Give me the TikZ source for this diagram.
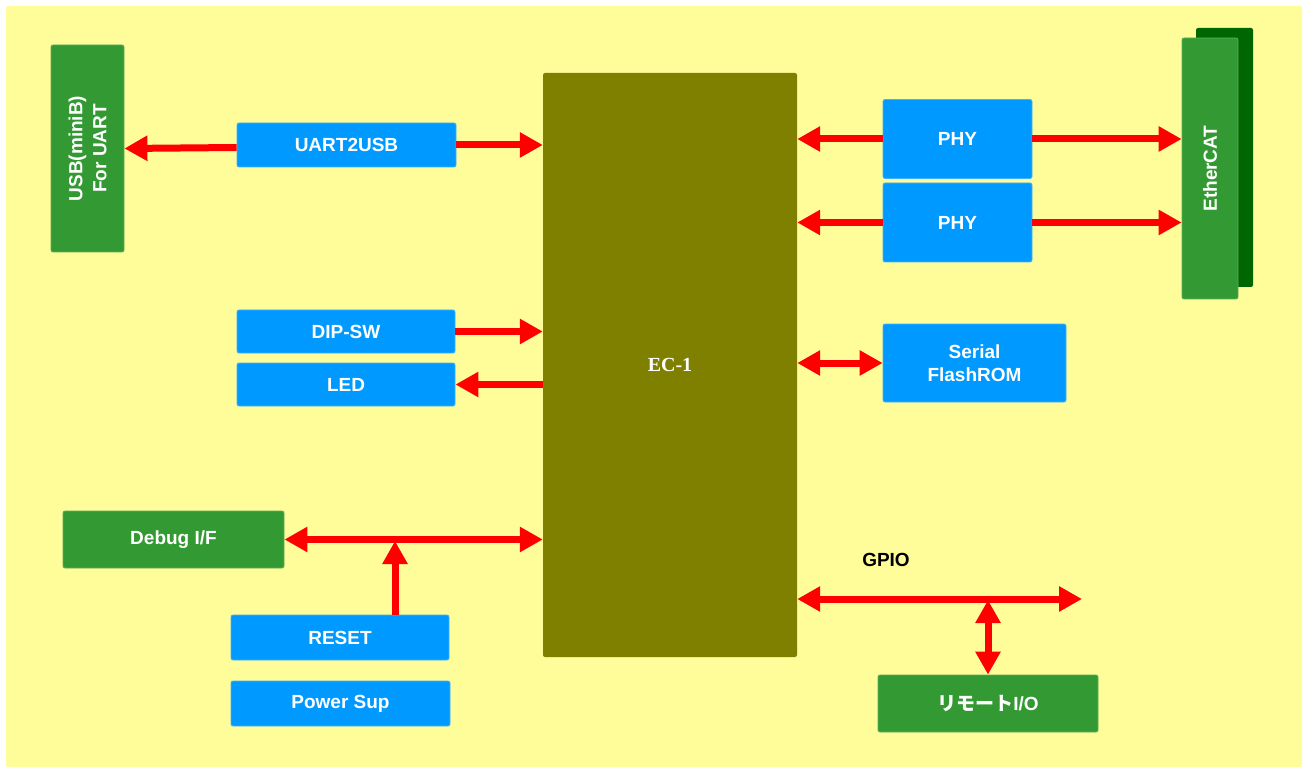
\documentclass[tikz,border=0pt]{standalone}
\usepackage{fontspec}
\usetikzlibrary{arrows.meta}
\setmainfont{Liberation Sans}
\newfontfamily\serifb{Liberation Serif}
\newfontfamily\cjk{Noto Sans CJK JP}
\definecolor{bgy}{HTML}{FFFD99}
\definecolor{bblue}{HTML}{0099FF}
\definecolor{bgreen}{HTML}{339933}
\definecolor{dgreen}{HTML}{006600}
\definecolor{olive}{HTML}{808000}
\definecolor{ared}{HTML}{FF0000}
\begin{document}
\begin{tikzpicture}[x=1pt,y=-1pt,
  box/.style={rectangle, rounded corners=2pt, inner sep=0pt, anchor=center, text=white,
    font=\fontsize{19}{23}\selectfont\bfseries, align=center, line width=0.8pt},
  bluebox/.style={box, fill=bblue, draw=bblue!75!white},
  greenbox/.style={box, fill=bgreen, draw=bgreen!80!white},
  arr/.style={draw=ared, line width=7pt, -{Triangle[length=23pt,width=24pt]}},
  darr/.style={draw=ared, line width=7pt, {Triangle[length=23pt,width=24pt]}-{Triangle[length=23pt,width=24pt]}}
]
\useasboundingbox (0,0) rectangle (1309,767);
\fill[bgy, rounded corners=2pt] (6,6) rectangle (1302,767);

% nodes
\node[greenbox, minimum width=73pt, minimum height=207pt] (usb) at (87.5,148.5) {};
\node[rotate=90, text=white, font=\fontsize{19}{24}\selectfont\bfseries, align=center] (usbt) at (usb.center) {USB(miniB)\\For UART};
\node[bluebox, minimum width=219pt, minimum height=44pt] (uart) at (346.5,145) {UART2USB};
\node[rectangle, rounded corners=2pt, fill=olive, inner sep=0pt, minimum width=254pt, minimum height=584pt, text=white,
  font=\serifb\fontsize{20}{24}\selectfont\bfseries] (ec) at (670,365) {EC-1};
\node[bluebox, minimum width=149pt, minimum height=79pt] (phy1) at (957.5,139) {PHY};
\node[bluebox, minimum width=149pt, minimum height=79pt] (phy2) at (957.5,222.5) {PHY};
\node[box, fill=dgreen, minimum width=57pt, minimum height=259pt] (ethb) at (1224.5,157.5) {};
\node[greenbox, minimum width=56pt, minimum height=261pt] (eth) at (1210,168.5) {};
\node[rotate=90, text=white, font=\fontsize{19}{23}\selectfont\bfseries] (etht) at (eth.center) {EtherCAT};
\node[bluebox, minimum width=218pt, minimum height=43pt] (dip) at (346,331.5) {DIP-SW};
\node[bluebox, minimum width=218pt, minimum height=43pt] (led) at (346,384.5) {LED};
\node[bluebox, minimum width=183pt, minimum height=78pt] (flash) at (974.5,363) {Serial\\FlashROM};
\node[greenbox, minimum width=221pt, minimum height=57pt] (debug) at (173.5,539.5) {Debug I/F};
\node[bluebox, minimum width=218pt, minimum height=45pt] (reset) at (340,637.5) {RESET};
\node[bluebox, minimum width=219pt, minimum height=45pt] (power) at (340.5,703.5) {Power Sup};
\node[greenbox, minimum width=220pt, minimum height=57pt] (remote) at (988,703.5) {{\cjk リモート}I/O};
\node[font=\fontsize{19}{23}\selectfont\bfseries, text=black] (gpio) at (886,560) {GPIO};

% junction coordinates
\coordinate (j1) at (395,541);
\coordinate (g1) at (1082,599);
\coordinate (j2) at (988,600);

% connectors
\draw[arr] ([yshift=-2.5pt]uart.west) -- (usb.east);
\draw[arr] (uart.east) -- (uart.east -| ec.west);
\draw[arr] (phy1.west) -- (phy1.west -| ec.east);
\draw[arr] (phy1.east) -- (phy1.east -| eth.west);
\draw[arr] (phy2.west) -- (phy2.west -| ec.east);
\draw[arr] (phy2.east) -- (phy2.east -| eth.west);
\draw[arr] (dip.east) -- (dip.east -| ec.west);
\draw[arr] (led.east -| ec.west) -- (led.east);
\draw[darr] (flash.west -| ec.east) -- (flash.west);
\draw[darr] (debug.east) -- (debug.east -| ec.west);
\draw[arr] (reset.north -| j1) -- (j1);
\draw[darr] (g1 -| ec.east) -- (g1);
\draw[darr] (j2) -- (j2 |- remote.north);
\end{tikzpicture}
\end{document}
